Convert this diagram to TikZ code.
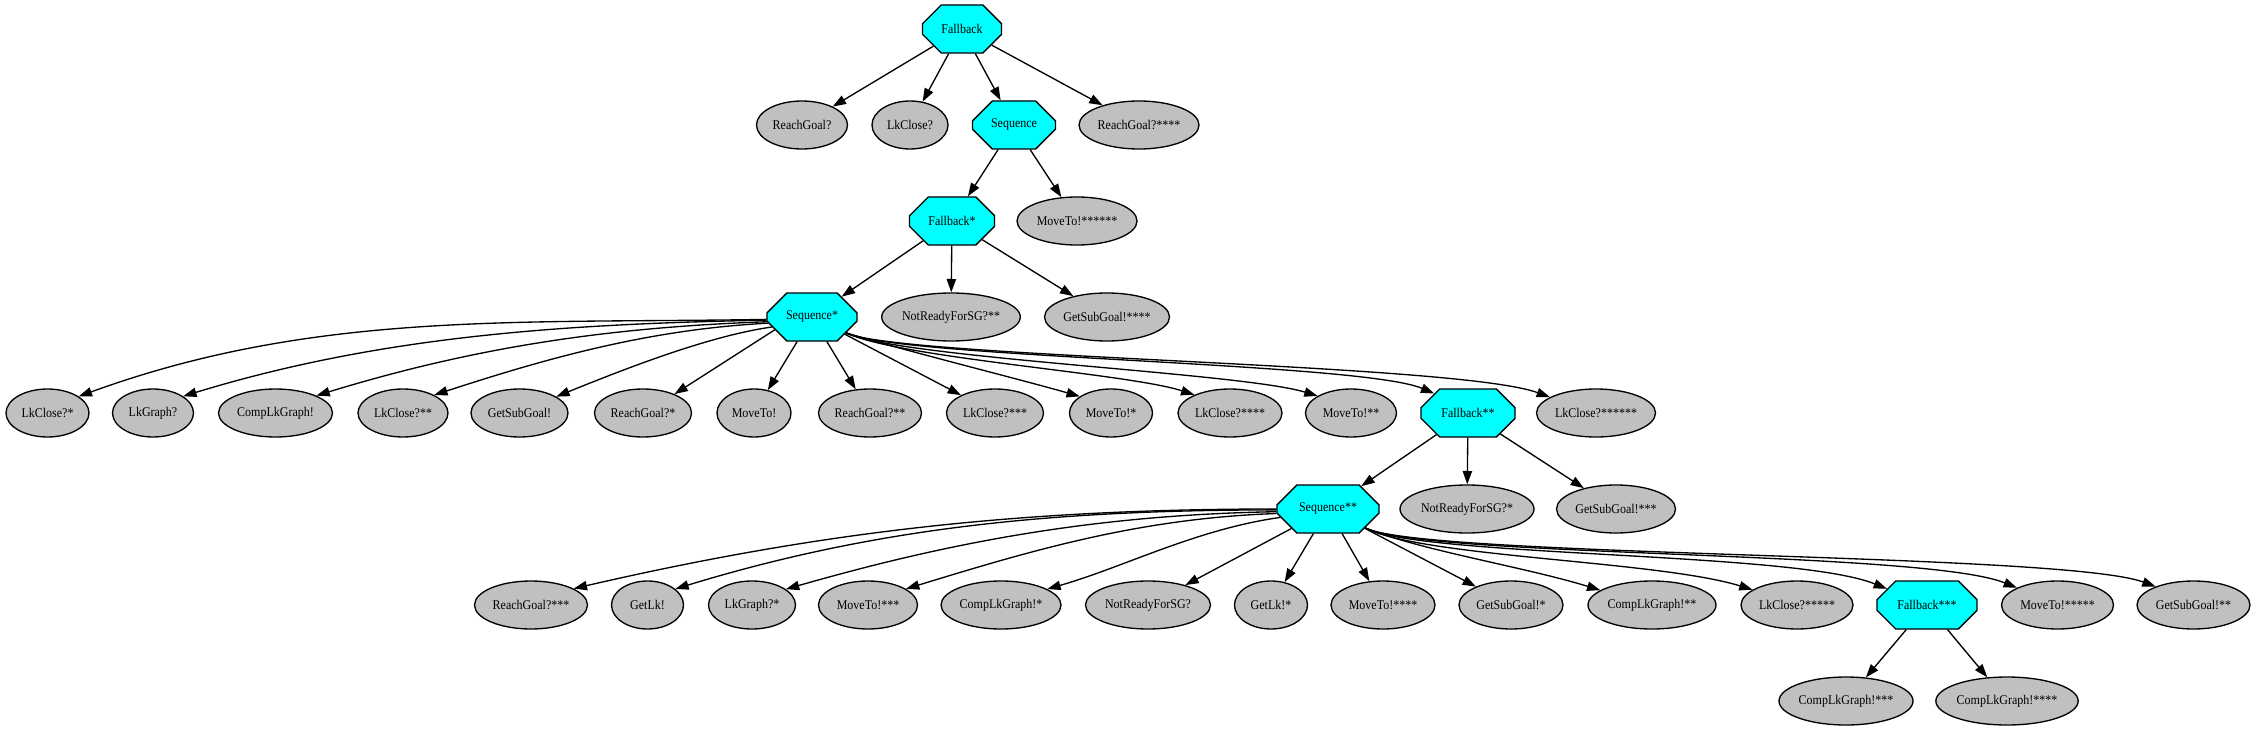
\documentclass[tikz,border=0pt]{standalone}
\usepackage{fontspec}
\setmainfont{Liberation Serif}[FakeStretch=0.9]
\usetikzlibrary{shapes.geometric,shapes.misc,arrows.meta}
\definecolor{gvgray}{HTML}{C0C0C0}
\definecolor{gvcyan}{HTML}{00FFFF}
\tikzset{
  leaf/.style={ellipse, draw=black, fill=gvgray, line width=1pt, inner sep=0pt,
    minimum height=36pt, minimum width=#1*0.75pt, font=\fontsize{10}{12}\selectfont},
  oct/.style={chamfered rectangle, draw=black, fill=gvcyan, line width=1pt, inner sep=0pt,
    minimum height=36pt, minimum width=#1*0.75pt,
    chamfered rectangle xsep=#1*0.75pt*0.293, chamfered rectangle ysep=10.5pt,
    font=\fontsize{10}{12}\selectfont},
  edge/.style={draw=black, line width=1pt, -{Triangle[length=10pt,width=7pt]}}
}
\begin{document}
\begin{tikzpicture}[x=0.75pt,y=0.75pt]
\useasboundingbox (0,0) rectangle (2256,-731);
% level 0-3
\node[oct=79] (fb) at (962,-29) {Fallback};
\node[leaf=91] (rg) at (802,-125) {ReachGoal?};
\node[leaf=76] (lc) at (910,-125) {LkClose?};
\node[oct=83] (sq) at (1014,-125) {Sequence};
\node[leaf=120] (rg4) at (1139,-125) {ReachGoal?****};
\node[oct=85] (fb1) at (952,-221) {Fallback*};
\node[leaf=120] (mt6) at (1077,-221) {MoveTo!******};
\node[oct=90] (sq1) at (812,-317) {Sequence*};
\node[leaf=138] (nr2) at (951,-317) {NotReadyForSG?**};
\node[leaf=125] (gs4) at (1107,-317) {GetSubGoal!****};
% level 4
\node[leaf=83] (lc1) at (47.5,-413) {LkClose?*};
\node[leaf=81] (lg) at (153,-413) {LkGraph?};
\node[leaf=114] (cg) at (275.5,-413) {CompLkGraph!};
\node[leaf=90] (lc2) at (403,-413) {LkClose?**};
\node[leaf=97] (gs) at (519.5,-413) {GetSubGoal!};
\node[leaf=97] (rg1) at (643,-413) {ReachGoal?*};
\node[leaf=74] (mt) at (754,-413) {MoveTo!};
\node[leaf=103] (rg2) at (870,-413) {ReachGoal?**};
\node[leaf=97] (lc3) at (995,-413) {LkClose?***};
\node[leaf=83] (mt1) at (1111,-413) {MoveTo!*};
\node[leaf=104] (lc4) at (1230,-413) {LkClose?****};
\node[leaf=91] (mt2) at (1351,-413) {MoveTo!**};
\node[oct=94] (fb2) at (1468,-413) {Fallback**};
\node[leaf=119] (lc6) at (1596,-413) {LkClose?******};
% level 5
\node[oct=102] (sq2) at (1328,-509) {Sequence**};
\node[leaf=134] (nr1) at (1467,-509) {NotReadyForSG?*};
\node[leaf=119] (gs3) at (1616,-509) {GetSubGoal!***};
% level 6
\node[leaf=113] (rg3) at (531,-605) {ReachGoal?***};
\node[leaf=72] (gl) at (647.5,-605) {GetLk!};
\node[leaf=87] (lg1) at (752,-605) {LkGraph?*};
\node[leaf=99] (mt3) at (868,-605) {MoveTo!***};
\node[leaf=120] (cg1) at (1001,-605) {CompLkGraph!*};
\node[leaf=125] (nr) at (1148,-605) {NotReadyForSG?};
\node[leaf=73] (gl1) at (1271,-605) {GetLk!*};
\node[leaf=104] (mt4) at (1383,-605) {MoveTo!****};
\node[leaf=104] (gs1) at (1511,-605) {GetSubGoal!*};
\node[leaf=128] (cg2) at (1652,-605) {CompLkGraph!**};
\node[leaf=112] (lc5) at (1797,-605) {LkClose?*****};
\node[oct=100] (fb3) at (1927,-605) {Fallback***};
\node[leaf=112] (mt5) at (2057.5,-605) {MoveTo!*****};
\node[leaf=113] (gs2) at (2193.5,-605) {GetSubGoal!**};
% level 7
\node[leaf=134] (cg3) at (1846,-701) {CompLkGraph!***};
\node[leaf=142] (cg4) at (2007,-701) {CompLkGraph!****};

% straight edges
\draw[edge] (fb) -- (rg);
\draw[edge] (fb) -- (lc);
\draw[edge] (fb) -- (sq);
\draw[edge] (fb) -- (rg4);
\draw[edge] (sq) -- (fb1);
\draw[edge] (sq) -- (mt6);
\draw[edge] (fb1) -- (sq1);
\draw[edge] (fb1) -- (nr2);
\draw[edge] (fb1) -- (gs4);
\draw[edge] (fb2) -- (sq2);
\draw[edge] (fb2) -- (nr1);
\draw[edge] (fb2) -- (gs3);
\draw[edge] (fb3) -- (cg3);
\draw[edge] (fb3) -- (cg4);

% Sequence* children
\draw[edge] (sq1.183) .. controls +(181:250) and +(20:250) .. (lc1.28);
\draw[edge] (sq1.184) .. controls +(181:213) and +(17:200) .. (lg.29);
\draw[edge] (sq1.186) .. controls +(182:165) and +(17:160) .. (cg.23);
\draw[edge] (sq1.188) .. controls +(183:122) and +(18:115) .. (lc2.30);
\draw[edge] (sq1.194) .. controls +(188:65) and +(22:70) .. (gs.24);
\draw[edge] (sq1.199) -- (rg1.31);
\draw[edge] (sq1) -- (mt);
\draw[edge] (sq1) -- (rg2);
\draw[edge] (sq1) -- (lc3);
\draw[edge] (sq1.335) .. controls +(-17:55) and +(164:60) .. (mt1.152);
\draw[edge] (sq1.335) .. controls +(-25:60) and +(162:70) .. (lc4.153);
\draw[edge] (sq1.335) .. controls +(-25:60) and +(163:80) .. (mt2.153);
\draw[edge] (sq1.335) .. controls +(-25:60) and +(157:80) .. (fb2.150);
\draw[edge] (sq1.335) .. controls +(-25:60) and +(160:100) .. (lc6.161);

% Sequence** children
\draw[edge] (sq2.180) .. controls +(180:260) and +(13:250) .. (rg3.21);
\draw[edge] (sq2.181) .. controls +(180:223) and +(17:210) .. (gl.30);
\draw[edge] (sq2.183) .. controls +(181:182) and +(16:170) .. (lg1.25);
\draw[edge] (sq2.185) .. controls +(182:138) and +(17:130) .. (mt3.23);
\draw[edge] (sq2.190) .. controls +(188:85) and +(16:80) .. (cg1.19);
\draw[edge] (sq2) -- (nr);
\draw[edge] (sq2) -- (gl1);
\draw[edge] (sq2) -- (mt4);
\draw[edge] (sq2) -- (gs1);
\draw[edge] (sq2.333) .. controls +(-22:60) and +(163:80) .. (cg2.164);
\draw[edge] (sq2.333) .. controls +(-27:65) and +(163:100) .. (lc5.161);
\draw[edge] (sq2.333) .. controls +(-27:65) and +(158:100) .. (fb3.158);
\draw[edge] (sq2.333) .. controls +(-27:65) and +(158:100) .. (mt5.157);
\draw[edge] (sq2.333) .. controls +(-27:65) and +(160:100) .. (gs2.154);
\end{tikzpicture}
\end{document}
